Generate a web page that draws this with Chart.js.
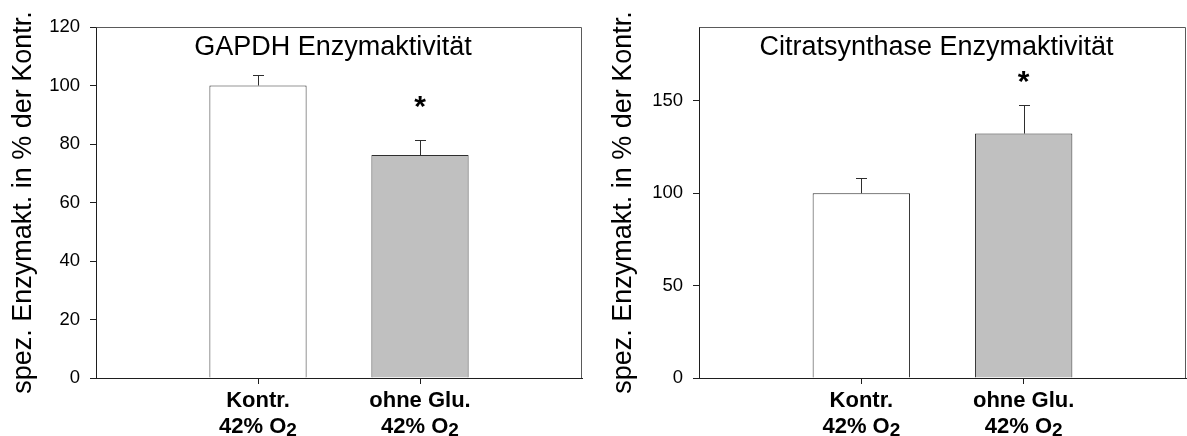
<!DOCTYPE html>
<html>
<head>
<meta charset="utf-8">
<script src="https://cdn.jsdelivr.net/npm/chart.js@4/dist/chart.umd.min.js"></script>
<style>
  html, body { margin: 0; padding: 0; background: #fff; }
  #wrap { position: relative; width: 1187px; height: 436px; overflow: hidden; }
  canvas { position: absolute; top: 0; }
  #gapdh { left: 0; }
  #cs { left: 600px; }
</style>
</head>
<body>
<div id="wrap">
  <canvas id="gapdh" width="600" height="436"></canvas>
  <canvas id="cs" width="587" height="436"></canvas>
</div>
<script>
// Groups on the x axis (two lines each, "₂" is set as a subscript)
const categories = [['Kontr.', '42% O₂'], ['ohne Glu.', '42% O₂']];

// GAPDH activity, % of control (mean and upper SEM)
const gapdhMean = [100, 76.2];
const gapdhErr = [3.5, 5.0];
const gapdhTicks = [0, 20, 40, 60, 80, 100, 120];
const gapdhStar = [null, 94.5];

// Citrate synthase activity, % of control (mean and upper SEM)
const csMean = [100, 132.3];
const csErr = [8.1, 15.7];
const csTicks = [0, 50, 100, 150];
const csStar = [null, 163];

const yTitle = 'spez. Enzymakt. in % der Kontr.';
const FONT = '"Liberation Sans", Arial, Helvetica, sans-serif';
const AXIS = '#1e1e1e';
const FRAME = '#5a5a5a';
const EDGE = '#2e2e2e';

// draw a string centred on cx, rendering subscript digits smaller and lowered
function drawRich(ctx, text, cx, baseline, size) {
  const subs = '₀₁₂₃₄₅₆₇₈₉';
  const parts = [];
  for (const ch of text) {
    const k = subs.indexOf(ch);
    const sub = k >= 0;
    const c = sub ? String(k) : ch;
    const last = parts[parts.length - 1];
    if (last && last.sub === sub) last.t += c; else parts.push({ t: c, sub });
  }
  const fontFor = p => 'bold ' + (p.sub ? Math.round(size * 0.88) : size) + 'px ' + FONT;
  let total = 0;
  for (const p of parts) { ctx.font = fontFor(p); p.w = ctx.measureText(p.t).width; total += p.w; }
  let x = cx - total / 2;
  ctx.textAlign = 'left';
  ctx.textBaseline = 'alphabetic';
  for (const p of parts) {
    ctx.font = fontFor(p);
    ctx.fillText(p.t, x, baseline + (p.sub ? 3 : 0));
    x += p.w;
  }
}

function decorations(o) {
  return {
    id: 'decor',
    afterDatasetsDraw(chart) {
      const { ctx, scales } = chart;
      const xs = scales.x, ys = scales.y;
      ctx.save();
      // upper error bars
      ctx.strokeStyle = EDGE;
      ctx.lineWidth = 1;
      chart.getDatasetMeta(0).data.forEach((bar, i) => {
        const x = Math.round(bar.x) + 0.5;
        const y0 = ys.getPixelForValue(o.means[i]);
        const y1 = Math.round(ys.getPixelForValue(o.means[i] + o.errors[i])) + 0.5;
        ctx.beginPath();
        ctx.moveTo(x, y0);
        ctx.lineTo(x, y1);
        ctx.moveTo(x - 5.5, y1);
        ctx.lineTo(x + 5.5, y1);
        ctx.stroke();
      });
      // significance marks
      ctx.fillStyle = '#000';
      ctx.textAlign = 'center';
      ctx.textBaseline = 'alphabetic';
      ctx.font = 'bold 30px ' + FONT;
      o.stars.forEach((v, i) => {
        if (v === null) return;
        const x = xs.getPixelForValue(i + 1);
        ctx.fillText('*', x, ys.getPixelForValue(v) + 14);
      });
      ctx.restore();
    },
    afterDraw(chart) {
      const { ctx, chartArea: a, scales } = chart;
      ctx.save();
      // top and right edges of the frame
      ctx.strokeStyle = FRAME;
      ctx.lineWidth = 1;
      ctx.beginPath();
      ctx.moveTo(Math.round(a.left) + 0.5, Math.round(a.top) + 0.5);
      ctx.lineTo(Math.round(a.right) - 0.5, Math.round(a.top) + 0.5);
      ctx.lineTo(Math.round(a.right) - 0.5, Math.round(a.bottom));
      ctx.stroke();
      // panel heading inside the frame
      ctx.fillStyle = '#000';
      ctx.font = '27px ' + FONT;
      ctx.textAlign = 'center';
      ctx.textBaseline = 'alphabetic';
      ctx.fillText(o.title, (a.left + a.right) / 2 - 6, a.top + 28);
      // group labels under the axis
      o.categories.forEach((lines, i) => {
        const x = scales.x.getPixelForValue(i + 1);
        lines.forEach((t, j) => drawRich(ctx, t, x, a.bottom + 29 + j * 26, 22));
      });
      ctx.restore();
    }
  };
}

function buildChart(id, o) {
  const positions = o.categories.map((_, i) => i + 1);
  const tickGrid = { display: true, drawOnChartArea: false, drawTicks: true, tickLength: 6, color: AXIS, lineWidth: 1, offset: false };
  return new Chart(document.getElementById(id), {
    type: 'bar',
    data: {
      datasets: [{
        data: positions.map((x, i) => ({ x, y: o.means[i] })),
        backgroundColor: o.fills,
        borderColor: EDGE,
        borderWidth: 1,
        borderSkipped: 'start',
        barPercentage: 0.6,
        categoryPercentage: 1
      }]
    },
    options: {
      responsive: false,
      animation: false,
      events: [],
      layout: { padding: { top: 27, right: o.padRight, bottom: 0, left: 0 } },
      plugins: { legend: { display: false }, tooltip: { enabled: false }, title: { display: false } },
      scales: {
        x: {
          type: 'linear', min: 0, max: 3, offset: false,
          grid: tickGrid,
          border: { display: true, color: AXIS, width: 1 },
          ticks: { display: false },
          afterBuildTicks: s => { s.ticks = positions.map(v => ({ value: v })); },
          afterFit: s => { s.height = 58; }
        },
        y: {
          type: 'linear', min: 0, max: o.yMax,
          grid: tickGrid,
          border: { display: true, color: AXIS, width: 1 },
          ticks: { color: '#000', font: { family: FONT, size: 18.5 }, padding: 10, callback: v => String(v) },
          afterBuildTicks: s => { s.ticks = o.yTicks.map(v => ({ value: v })); },
          afterFit: s => { s.width = o.axisWidth; },
          title: {
            display: true, text: yTitle, color: '#000',
            font: { family: FONT, size: 27 }, padding: { top: 7, bottom: 0 }
          }
        }
      }
    },
    plugins: [decorations(o)]
  });
}

buildChart('gapdh', {
  title: 'GAPDH Enzymaktivität',
  categories, means: gapdhMean, errors: gapdhErr, stars: gapdhStar,
  yTicks: gapdhTicks, yMax: 120,
  fills: ['#ffffff', '#c0c0c0'],
  axisWidth: 96, padRight: 18
});

buildChart('cs', {
  title: 'Citratsynthase Enzymaktivität',
  categories, means: csMean, errors: csErr, stars: csStar,
  yTicks: csTicks, yMax: 190,
  fills: ['#ffffff', '#c0c0c0'],
  axisWidth: 99, padRight: 1
});
</script>
</body>
</html>
